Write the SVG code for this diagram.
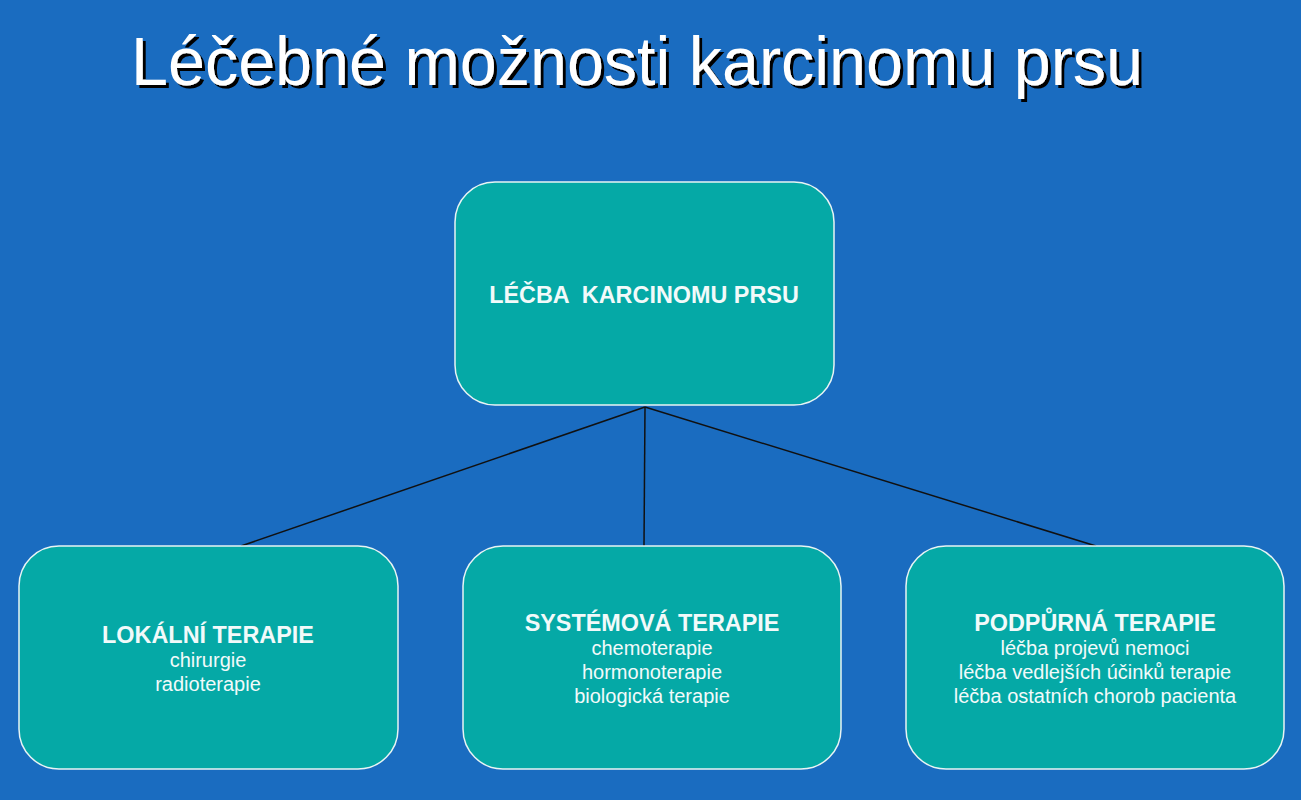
<svg xmlns="http://www.w3.org/2000/svg" width="1301" height="800" viewBox="0 0 1301 800">
<defs>
<filter id="shadow" x="-5%" y="-20%" width="110%" height="150%">
<feDropShadow dx="3" dy="3" stdDeviation="0.6" flood-color="#000" flood-opacity="1"/>
</filter>
</defs>
<style>
.box{fill:#05a9a6;stroke:#e8f4f4;stroke-width:1.5}
.t{font-family:"Liberation Sans",Arial,sans-serif;fill:#f2fafa;text-anchor:middle}
.h{font-weight:bold;font-size:23.4px;white-space:pre}
.s{font-size:20px}
.title{font-family:"Liberation Sans",Arial,sans-serif;font-size:68px;text-anchor:middle;fill:#fff}
</style>
<rect width="1301" height="800" fill="#1a6cc0"/>
<g id="title">
<text class="title" x="637" y="85" textLength="1012" lengthAdjust="spacingAndGlyphs" filter="url(#shadow)">Léčebné možnosti karcinomu prsu</text>
</g>
<g id="connectors" stroke="#111" stroke-width="1.5" fill="none">
<line x1="645" y1="407" x2="241" y2="546"/>
<line x1="645" y1="407" x2="644" y2="546"/>
<line x1="645" y1="407" x2="1096" y2="546"/>
</g>
<g id="root">
<rect class="box" x="455" y="182" width="379" height="223" rx="40"/>
<text class="t h" x="644" y="303" xml:space="preserve">LÉČBA  KARCINOMU PRSU</text>
</g>
<g id="local">
<rect class="box" x="19" y="546" width="379" height="223" rx="40"/>
<text class="t h" x="208" y="643">LOKÁLNÍ TERAPIE</text>
<text class="t s" x="208" y="667">chirurgie</text>
<text class="t s" x="208" y="691">radioterapie</text>
</g>
<g id="systemic">
<rect class="box" x="463" y="546" width="378" height="223" rx="40"/>
<text class="t h" x="652" y="631">SYSTÉMOVÁ TERAPIE</text>
<text class="t s" x="652" y="655">chemoterapie</text>
<text class="t s" x="652" y="679">hormonoterapie</text>
<text class="t s" x="652" y="703">biologická terapie</text>
</g>
<g id="supportive">
<rect class="box" x="906" y="546" width="378" height="223" rx="40"/>
<text class="t h" x="1095" y="631">PODPŮRNÁ TERAPIE</text>
<text class="t s" x="1095" y="655">léčba projevů nemoci</text>
<text class="t s" x="1095" y="679">léčba vedlejších účinků terapie</text>
<text class="t s" x="1095" y="703">léčba ostatních chorob pacienta</text>
</g>
</svg>
